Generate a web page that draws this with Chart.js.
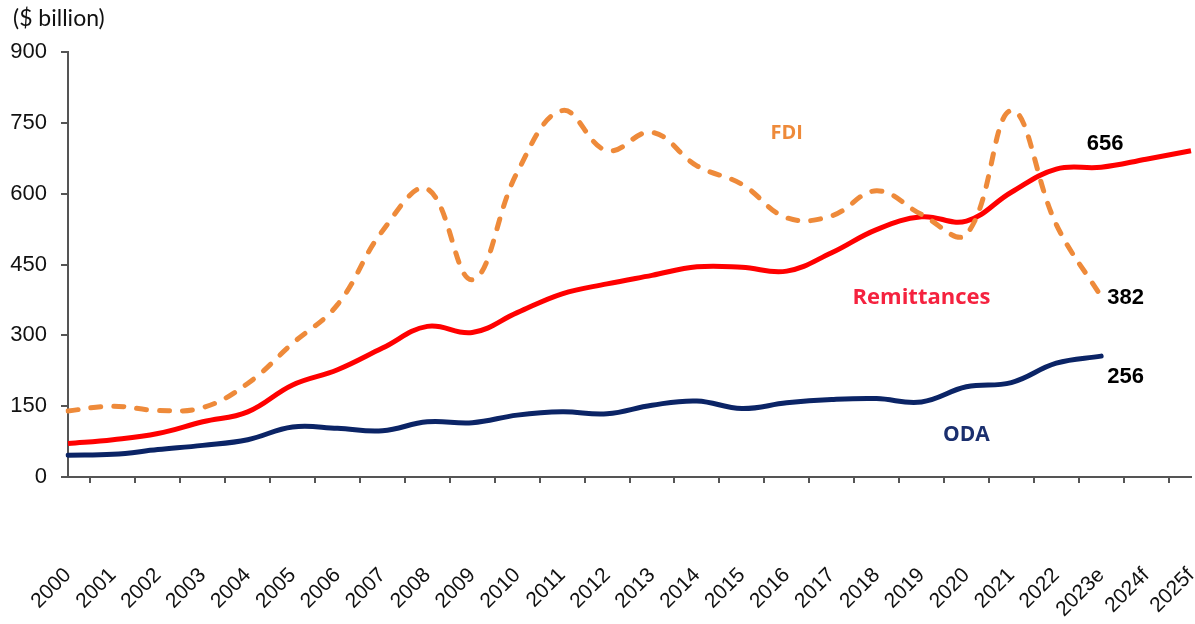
<!DOCTYPE html>
<html>
<head>
<meta charset="utf-8">
<script src="https://cdn.jsdelivr.net/npm/chart.js@4/dist/chart.umd.min.js"></script>
<style>
  html, body { margin: 0; padding: 0; background: #fff; }
  #wrap { width: 1195px; height: 624px; position: relative; }
</style>
</head>
<body>
<div id="wrap"><canvas id="flowsChart" width="1195" height="624"></canvas></div>
<script>
// Categories (years)
const years = ['2000', '2001', '2002', '2003', '2004', '2005', '2006', '2007', '2008', '2009',
    '2010', '2011', '2012', '2013', '2014', '2015', '2016', '2017', '2018', '2019',
    '2020', '2021', '2022', '2023e', '2024f', '2025f'];

// Series values ($ billion)
const remittances = [71, 79, 92, 117, 138, 195, 227, 273, 319, 306,
    348, 388, 409, 427, 445, 444, 436, 475, 524, 551,
    542, 603, 652, 656, 673, 691];
const fdi = [140, 150, 141, 147, 198, 283, 365, 521, 610, 418,
    645, 776, 691, 730, 659, 620, 549, 553, 606, 556,
    514, 776, 535, 382, null, null];
const oda = [46, 48, 58, 67, 79, 106, 103, 98, 117, 115,
    131, 138, 134, 152, 161, 145, 157, 164, 166, 159,
    191, 200, 241, 256, null, null];

// Y axis ticks
const yTicks = [0, 150, 300, 450, 600, 750, 900];

// Text labels placed on the chart: [text, category, value, color, align, font]
const seriesLabels = [
    ['FDI', '2016', 727, '#EE8A3A', 'center', 'bold 20px "Open Sans"'],
    ['Remittances', '2019', 380, '#F5223F', 'center', 'bold 22px "Open Sans"'],
    ['ODA', '2020', 88, '#1B2F6E', 'center', 'bold 21px "Open Sans"'],
    ['656', '2023e', 705, '#000', 'center', 'bold 22px "Liberation Sans"'],
    ['382', '2023e', 380, '#000', 'left', 'bold 22px "Liberation Sans"'],
    ['256', '2023e', 212, '#000', 'left', 'bold 22px "Liberation Sans"']
];

const colors = {
    red: '#FF0000',
    orange: '#EE8A3A',
    navy: '#0B2466',
    axis: '#555555',
    text: '#111111'
};

// Draws the series names, end values and unit label
const labelPlugin = {
    id: 'labelPlugin',
    afterDraw(chart) {
        const ctx = chart.ctx;
        const x = chart.scales.x;
        const y = chart.scales.y;
        ctx.save();
        ctx.textBaseline = 'middle';
        seriesLabels.forEach(([text, cat, val, color, align, font]) => {
            let px = x.getPixelForValue(years.indexOf(cat));
            if (align === 'left') px += 6;
            else if (text === '656') px += 4;
            ctx.font = font;
            ctx.fillStyle = color;
            ctx.textAlign = align;
            ctx.fillText(text, px, y.getPixelForValue(val));
        });

        // unit label "($ billion)"
        ctx.fillStyle = colors.text;
        ctx.textAlign = 'left';
        ctx.font = '23px Lato';
        ctx.fillText('($ billion)', 13, 19);
        ctx.restore();
    }
};

const ctx = document.getElementById('flowsChart').getContext('2d');
const flowsChart = new Chart(ctx, {
    type: 'line',
    data: {
        labels: years,
        datasets: [
            {
                label: 'FDI',
                data: fdi,
                borderColor: colors.orange,
                borderWidth: 5,
                borderDash: [10, 13],
                borderCapStyle: 'round',
                tension: 0.4,
                pointRadius: 0,
                spanGaps: false
            },
            {
                label: 'Remittances',
                data: remittances,
                borderColor: colors.red,
                borderWidth: 5,
                tension: 0.4,
                pointRadius: 0
            },
            {
                label: 'ODA',
                data: oda,
                borderColor: colors.navy,
                borderWidth: 5,
                borderCapStyle: 'round',
                tension: 0.4,
                pointRadius: 0
            }
        ]
    },
    options: {
        responsive: false,
        animation: false,
        layout: {
            padding: { top: 52, right: 4, left: 0, bottom: 0 }
        },
        plugins: {
            legend: { display: false },
            tooltip: { enabled: false }
        },
        scales: {
            x: {
                offset: false,
                border: { color: colors.axis, width: 2 },
                grid: {
                    offset: true,
                    drawOnChartArea: false,
                    drawTicks: true,
                    tickLength: 6,
                    color: colors.axis,
                    lineWidth: 2
                },
                ticks: {
                    autoSkip: false,
                    minRotation: 45,
                    maxRotation: 45,
                    padding: 80,
                    color: colors.text,
                    font: { family: '"Liberation Sans"', size: 21 }
                },
                afterFit(scale) {
                    scale.height = 147;
                    scale.paddingLeft = 0;
                    scale.paddingRight = 0;
                }
            },
            y: {
                min: 0,
                max: 900,
                border: { color: colors.axis, width: 2 },
                grid: {
                    drawOnChartArea: false,
                    drawTicks: true,
                    tickLength: 7,
                    color: colors.axis,
                    lineWidth: 2
                },
                afterBuildTicks(scale) {
                    scale.ticks = yTicks.map(v => ({ value: v }));
                },
                ticks: {
                    padding: 14,
                    color: colors.text,
                    font: { family: '"Liberation Sans"', size: 22 }
                },
                afterFit(scale) {
                    scale.width = 68;
                    scale.paddingTop = 0;
                    scale.paddingBottom = 0;
                }
            }
        }
    },
    plugins: [labelPlugin]
});
</script>
</body>
</html>
